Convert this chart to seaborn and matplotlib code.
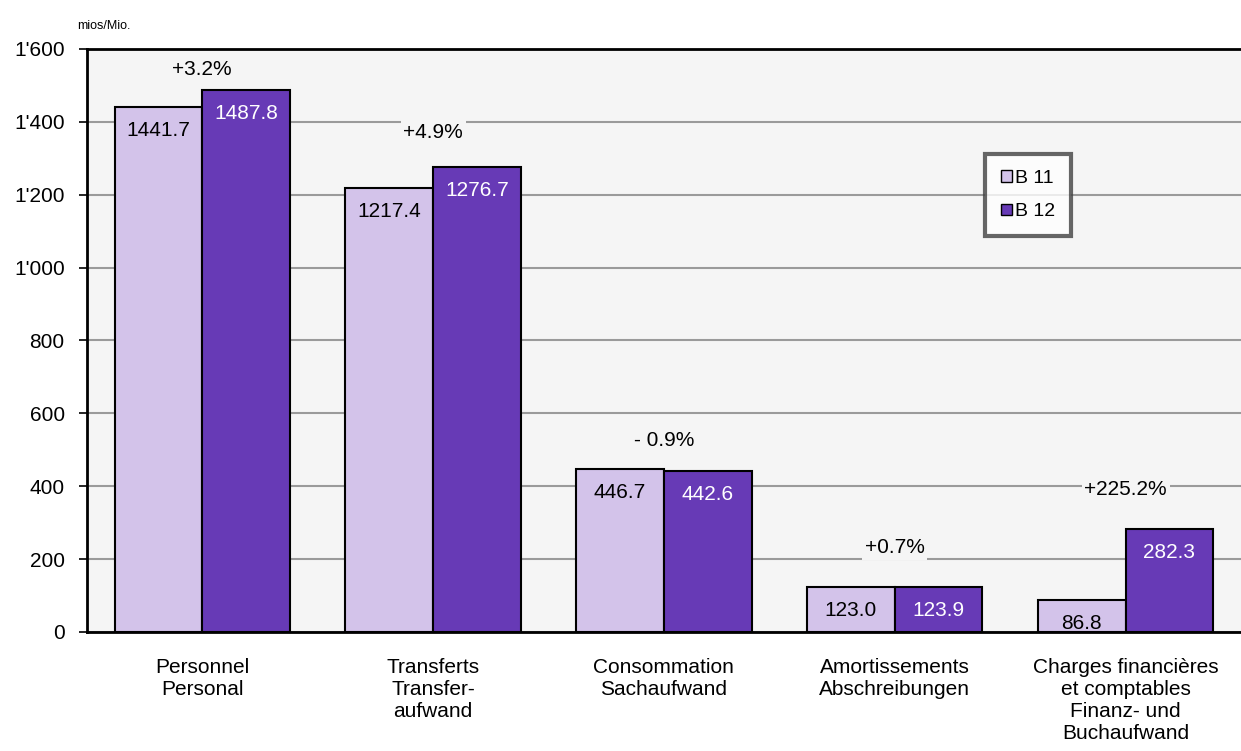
import pandas as pd
import matplotlib
matplotlib.use("Agg")
import matplotlib.pyplot as plt
import matplotlib.ticker as mticker
import seaborn as sns

categories = [
    "Personnel\nPersonal",
    "Transferts\nTransfer-\naufwand",
    "Consommation\nSachaufwand",
    "Amortissements\nAbschreibungen",
    "Charges financières\net comptables\nFinanz- und\nBuchaufwand",
]
b11 = [1441.7, 1217.4, 446.7, 123.0, 86.8]
b12 = [1487.8, 1276.7, 442.6, 123.9, 282.3]
pct_labels = ["+3.2%", "+4.9%", "- 0.9%", "+0.7%", "+225.2%"]
pct_offset = [55, 95, 78, 108, 110]

light = "#d3c3ea"
dark = "#673ab6"
plot_bg = "#f5f5f5"

df = pd.DataFrame({
    "cat": categories * 2,
    "value": b11 + b12,
    "series": ["B 11"] * 5 + ["B 12"] * 5,
})

sns.set_style("white")
plt.rcParams["font.family"] = ["Liberation Sans", "DejaVu Sans"]
plt.rcParams["text.color"] = "black"
plt.rcParams["xtick.color"] = "black"
plt.rcParams["ytick.color"] = "black"

fig = plt.figure(figsize=(12.41, 7.51), dpi=100)
ax = fig.add_axes([0.070, 0.1585, 0.930, 0.7763])
ax.set_facecolor(plot_bg)

sns.barplot(data=df, x="cat", y="value", hue="series", palette=[light, dark],
            saturation=1, width=0.76, edgecolor="black", linewidth=1.5, gap=0,
            ax=ax, zorder=3)

ax.set_ylim(0, 1600)
ax.set_xlim(-0.5, 4.5)
ax.yaxis.set_major_locator(mticker.MultipleLocator(200))
ax.yaxis.set_major_formatter(mticker.FuncFormatter(lambda v, p: f"{int(v):,}".replace(",", "'")))
ax.grid(axis="y", color="#9a9a9a", linewidth=1.5, zorder=0)
ax.set_axisbelow(True)

# category boundaries as ticks, labels in the middle
ax.set_xticks([i - 0.5 for i in range(6)], minor=True)
ax.tick_params(axis="x", which="minor", length=7, width=1.2, direction="out", color="black")
ax.tick_params(axis="x", which="major", length=0, pad=19, labelsize=15)
ax.tick_params(axis="y", length=6, width=1.2, direction="out", color="black",
               labelsize=15, left=True, pad=10)
for lbl in ax.get_xticklabels():
    lbl.set_linespacing(1.2)
    lbl.set_verticalalignment("top")

ax.set_xlabel("")
ax.set_ylabel("")

for side in ["left", "top", "bottom"]:
    ax.spines[side].set_color("black")
    ax.spines[side].set_linewidth(2)
ax.spines["right"].set_visible(False)

# value labels inside bars
for cont, vals, col in zip(ax.containers, [b11, b12], ["black", "white"]):
    for bar, v in zip(cont, vals):
        ax.annotate(f"{v:.1f}", (bar.get_x() + bar.get_width() / 2, v),
                    xytext=(0, -10), textcoords="offset points",
                    ha="center", va="top", fontsize=15, color=col, zorder=5)

# percentage change labels
for i, (t, off) in enumerate(zip(pct_labels, pct_offset)):
    ax.text(i, max(b11[i], b12[i]) + off, t, ha="center", va="center", fontsize=15,
            zorder=4, bbox=dict(facecolor=plot_bg, edgecolor="none", pad=2))

leg = ax.legend(loc="upper left", bbox_to_anchor=(0.770, 0.836), frameon=True,
                fontsize=14, handlelength=0.55, handleheight=0.55, handletextpad=0.2,
                borderpad=0.8, labelspacing=0.85, fancybox=False)
leg.get_frame().set_edgecolor("#404040")
leg.get_frame().set_linewidth(3)
leg.get_frame().set_facecolor("white")
for h in leg.legend_handles:
    h.set_edgecolor("black")
    h.set_linewidth(1)

fig.text(0.062, 0.965, "mios/Mio.", fontsize=9, ha="left", va="center")

fig.savefig("out.png", dpi=100)
